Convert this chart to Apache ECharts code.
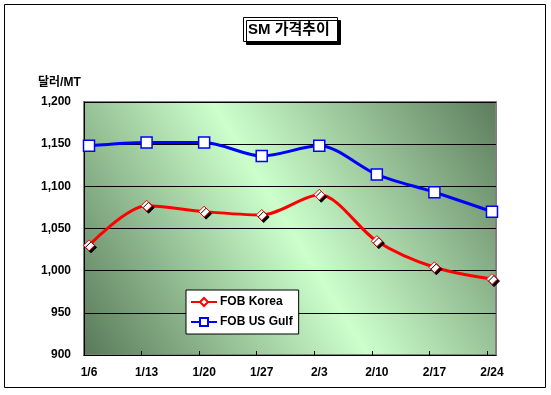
<!DOCTYPE html>
<html><head><meta charset="utf-8">
<script src="https://cdn.jsdelivr.net/npm/echarts@6/dist/echarts.min.js"></script>
<style>html,body{margin:0;padding:0;background:#fff}#c{width:551px;height:395px}</style>
</head><body><div id="c"></div>
<script>
const categories = ['1/6','1/13','1/20','1/27','2/3','2/10','2/17','2/24'];
const fobKorea = [1030, 1077, 1070, 1066, 1090, 1035, 1004, 990];
const fobUSGulf = [1148, 1152, 1152, 1136, 1148, 1114, 1093, 1070];
const yTicks = [900, 950, 1000, 1050, 1100, 1150, 1200];

const chart = echarts.init(document.getElementById('c'));
const font = 'Arial, "Liberation Sans", "Noto Sans CJK KR", sans-serif';
const idx = categories.map((_, i) => i);
const xMin = -0.087, xMax = 7.07;
chart.setOption({
  animation: false,
  textStyle: {fontFamily: font},
  title: {
    text: 'SM 가격추이', left: 243, top: 17,
    padding: [5, 8, 5, 5],
    backgroundColor: '#fff', borderColor: '#000', borderWidth: 1,
    shadowColor: '#000', shadowOffsetX: 3, shadowOffsetY: 3, shadowBlur: 0,
    textStyle: {fontSize: 15, fontWeight: 'bold', color: '#000', fontFamily: font}
  },
  graphic: [
    {type: 'rect', shape: {x: 4.5, y: 4.5, width: 541, height: 383}, style: {fill: null, stroke: '#000', lineWidth: 1}, z: -10},
    {type: 'text', left: 38, top: 77, style: {text: '달러/MT', font: 'bold 12px ' + font, fill: '#000'}}
  ],
  legend: {
    orient: 'vertical', left: 186, top: 290,
    backgroundColor: '#fff', borderColor: '#000', borderWidth: 1,
    padding: [6, 6, 6, 4], itemGap: 8, itemWidth: 26, itemHeight: 10,
    textStyle: {fontSize: 12, fontWeight: 'bold', color: '#000', fontFamily: font, padding: [0, 0, 0, -2]},
    data: ['FOB Korea', 'FOB US Gulf']
  },
  grid: {
    left: 84, right: 55, top: 102, bottom: 40, show: true,
    backgroundColor: new echarts.graphic.LinearGradient(0, 1, 1, 0, [
      {offset: 0, color: '#587858'},
      {offset: 0.5, color: '#ccffcc'},
      {offset: 1, color: '#5c7c5c'}
    ]),
    borderColor: '#808080', borderWidth: 2
  },
  xAxis: {
    type: 'value', min: xMin, max: xMax,
    axisLine: {show: true, onZero: false, lineStyle: {color: '#000', width: 1}},
    axisTick: {show: true, inside: true, length: 4, customValues: idx.slice(1).map(i => i - 0.087), lineStyle: {color: '#000'}},
    splitLine: {show: false},
    axisLabel: {
      customValues: idx, margin: 12,
      formatter: v => categories[Math.round(v)],
      fontSize: 12, fontWeight: 'bold', color: '#000', fontFamily: font
    }
  },
  yAxis: {
    type: 'value', min: 900, max: 1200, interval: 50,
    axisLine: {show: true, onZero: false, lineStyle: {color: '#000', width: 1}},
    axisTick: {show: false},
    splitLine: {show: true, lineStyle: {color: '#000', width: 1}},
    axisLabel: {
      margin: 13,
      formatter: v => v.toLocaleString('en-US'),
      fontSize: 12, fontWeight: 'bold', color: '#000', fontFamily: font
    }
  },
  series: [
    {
      name: 'FOB Korea', type: 'line', smooth: 0.3,
      data: fobKorea.map((v, i) => [i, v]),
      symbol: 'diamond', symbolSize: 11,
      lineStyle: {color: '#ff0000', width: 3},
      itemStyle: {color: '#fff', borderColor: '#ff0000', borderWidth: 1,
        shadowColor: '#000', shadowOffsetX: 2, shadowOffsetY: 2, shadowBlur: 0},
      emphasis: {disabled: true}
    },
    {
      name: 'FOB US Gulf', type: 'line', smooth: 0.3,
      data: fobUSGulf.map((v, i) => [i, v]),
      symbol: 'rect', symbolSize: 11,
      lineStyle: {color: '#0000ff', width: 3},
      itemStyle: {color: '#fff', borderColor: '#0000ff', borderWidth: 1.5},
      emphasis: {disabled: true}
    }
  ]
});
</script></body></html>
